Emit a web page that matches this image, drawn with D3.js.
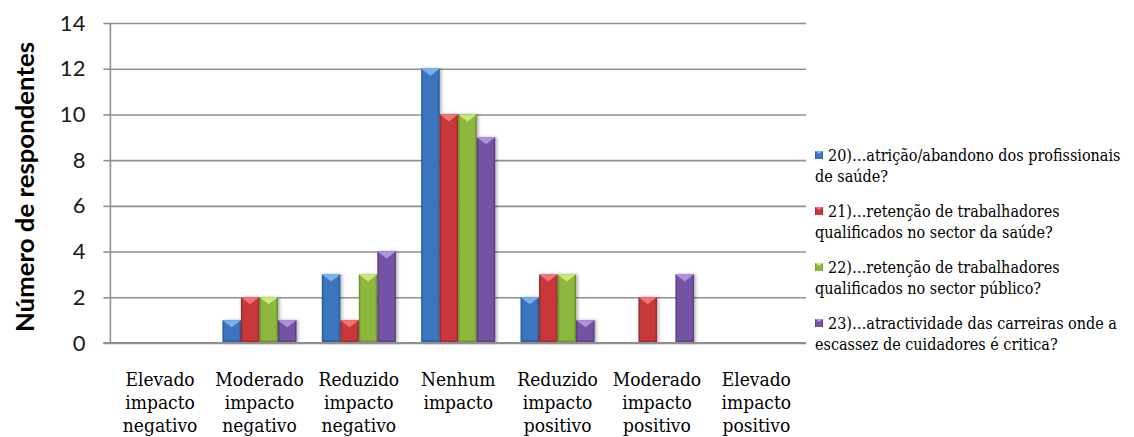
<!DOCTYPE html>
<html>
<head>
<meta charset="utf-8">
<script src="https://cdn.jsdelivr.net/npm/d3@7"></script>
<style>
  html, body { margin: 0; padding: 0; background: #fff; }
  svg { display: block; }
</style>
</head>
<body>
<svg id="chart" width="1134" height="437"></svg>
<script>
// Impact categories along the x axis (each label broken into lines)
const categories = [
  ["Elevado", "impacto", "negativo"],
  ["Moderado", "impacto", "negativo"],
  ["Reduzido", "impacto", "negativo"],
  ["Nenhum", "impacto"],
  ["Reduzido", "impacto", "positivo"],
  ["Moderado", "impacto", "positivo"],
  ["Elevado", "impacto", "positivo"]
];
const categoryKeys = categories.map(c => c.join(" "));

// Questions (series) shown in the legend
const seriesNames = [
  ["20)\u2026atrição/abandono dos profissionais", "de saúde?"],
  ["21)\u2026retenção de trabalhadores", "qualificados no sector da saúde?"],
  ["22)\u2026retenção de trabalhadores", "qualificados no sector público?"],
  ["23)\u2026atractividade das carreiras onde a", "escassez de cuidadores é critica?"]
];

// Number of respondents per category, one array per question
const q20 = [0, 1, 3, 12, 2, 0, 0];
const q21 = [0, 2, 1, 10, 3, 2, 0];
const q22 = [0, 2, 3, 10, 3, 0, 0];
const q23 = [0, 1, 4, 9, 1, 3, 0];
const seriesValues = [q20, q21, q22, q23];

const yTicks = [0, 2, 4, 6, 8, 10, 12, 14];
const yTitle = "Número de respondentes";

const SERIF = "'DejaVu Serif Condensed', 'DejaVu Serif', serif";
const SANS = "Lato, 'Open Sans', sans-serif";

// Bar palette: body, light top facet, dark edge
const palette = [
  { base: "#3B74BE", light: "#79B1EE", dark: "#23508E" },
  { base: "#C8383B", light: "#EE7676", dark: "#8E2225" },
  { base: "#8DB73C", light: "#CBE87A", dark: "#5F8122" },
  { base: "#7553A4", light: "#AE92DD", dark: "#4E3375" }
];

const svg = d3.select("#chart");
const plot = { left: 110.4, right: 806, top: 23, bottom: 343 };

const x = d3.scaleBand()
  .domain(categoryKeys)
  .range([plot.left, plot.right])
  .paddingInner(0.255)
  .paddingOuter(0.1275);

const xs = d3.scaleBand()
  .domain(d3.range(seriesValues.length))
  .range([0, x.bandwidth()])
  .padding(0);

const y = d3.scaleLinear().domain([0, 14]).range([plot.bottom, plot.top]);

const defs = svg.append("defs");
palette.forEach((p, i) => {
  const g = defs.append("linearGradient").attr("id", "bar" + i)
    .attr("x1", "0").attr("x2", "1").attr("y1", "0").attr("y2", "0");
  g.append("stop").attr("offset", "0").attr("stop-color", p.dark);
  g.append("stop").attr("offset", "0.12").attr("stop-color", p.base);
  g.append("stop").attr("offset", "0.88").attr("stop-color", p.base);
  g.append("stop").attr("offset", "1").attr("stop-color", p.dark);
});
const sh = defs.append("filter").attr("id", "shadow")
  .attr("x", "-30%").attr("y", "-10%").attr("width", "160%").attr("height", "120%");
sh.append("feDropShadow").attr("dx", 2).attr("dy", 0)
  .attr("stdDeviation", 1.6).attr("flood-color", "#000").attr("flood-opacity", 0.28);

// Gridlines
svg.append("g")
  .attr("transform", `translate(${plot.left},0)`)
  .call(d3.axisLeft(y).tickValues(yTicks).tickSize(-(plot.right - plot.left)).tickFormat(""))
  .call(g => g.select(".domain").remove())
  .call(g => g.selectAll("line").attr("stroke", "#8f8f8f").attr("stroke-width", 1.6));

// Bars
const groups = svg.append("g").selectAll("g")
  .data(categoryKeys)
  .join("g")
  .attr("transform", d => `translate(${x(d)},0)`);

groups.each(function (cat, ci) {
  const g = d3.select(this);
  seriesValues.forEach((vals, si) => {
    const v = vals[ci];
    if (!v) return;
    const x0 = xs(si), w = xs.bandwidth();
    const yt = y(v), yb = y(0);
    const p = palette[si];
    const bar = g.append("g").attr("filter", "url(#shadow)");
    bar.append("rect")
      .attr("x", x0).attr("y", yt).attr("width", w).attr("height", yb - yt)
      .attr("fill", `url(#bar${si})`);
    // top facet (lighter triangle)
    const depth = Math.min(7, (yb - yt) / 2);
    bar.append("path")
      .attr("d", `M${x0},${yt}L${x0 + w},${yt}L${x0 + w / 2},${yt + depth}Z`)
      .attr("fill", p.light);
    // bottom bevel (darker strip)
    bar.append("path")
      .attr("d", `M${x0},${yb}L${x0 + 2.5},${yb - 2.5}L${x0 + w - 2.5},${yb - 2.5}L${x0 + w},${yb}Z`)
      .attr("fill", p.dark).attr("opacity", 0.6);
  });
});

// Y axis line and tick labels
const yAxis = svg.append("g")
  .attr("transform", `translate(${plot.left},0)`)
  .call(d3.axisLeft(y).tickValues(yTicks).tickSize(7).tickPadding(18).tickFormat(d3.format("d")));
yAxis.select(".domain").attr("stroke", "#8f8f8f").attr("stroke-width", 1.6)
  .attr("d", `M0,${plot.top}V${plot.bottom}`);
yAxis.selectAll(".tick line").attr("stroke", "#8f8f8f").attr("stroke-width", 1.6);
yAxis.selectAll(".tick text")
  .style("font-family", SANS)
  .style("font-size", "22px").attr("fill", "#1a1a1a");

// Baseline
svg.append("line")
  .attr("x1", plot.left - 7).attr("x2", plot.right)
  .attr("y1", y(0)).attr("y2", y(0))
  .attr("stroke", "#8f8f8f").attr("stroke-width", 1.8);

// Category labels
const xl = svg.append("g").selectAll("text")
  .data(categories)
  .join("text")
  .style("font-family", SERIF)
  .style("font-stretch", "condensed")
  .style("font-size", "19px")
  .attr("fill", "#000")
  .attr("text-anchor", "middle")
  .attr("transform", (d, i) => `translate(${x(categoryKeys[i]) + x.bandwidth() / 2},386)`);
xl.selectAll("tspan")
  .data(d => d)
  .join("tspan")
  .attr("x", 0)
  .attr("y", (d, i) => i * 23)
  .text(d => d);

// Y axis title
svg.append("text")
  .style("font-family", SANS)
  .attr("transform", `translate(34,187) rotate(-90)`)
  .attr("text-anchor", "middle")
  .style("font-weight", "bold")
  .style("font-size", "24px")
  .attr("textLength", 290)
  .attr("lengthAdjust", "spacingAndGlyphs")
  .attr("fill", "#000")
  .text(yTitle);

// Legend
const legend = svg.append("g").selectAll("g")
  .data(seriesNames)
  .join("g")
  .attr("transform", (d, i) => `translate(815,${161 + i * 56})`);
legend.append("rect")
  .attr("x", 0).attr("y", -10).attr("width", 8).attr("height", 8)
  .attr("fill", (d, i) => `url(#bar${i})`);
legend.append("path")
  .attr("d", "M0,-10L8,-10L4,-7Z")
  .attr("fill", (d, i) => palette[i].light);
const lt = legend.append("text")
  .style("font-family", SERIF)
  .style("font-stretch", "condensed")
  .style("font-size", "16px")
  .attr("fill", "#000");
lt.selectAll("tspan")
  .data(d => d)
  .join("tspan")
  .attr("x", (d, i) => i === 0 ? 13 : 0)
  .attr("y", (d, i) => i * 21)
  .text(d => d);
</script>
</body>
</html>
